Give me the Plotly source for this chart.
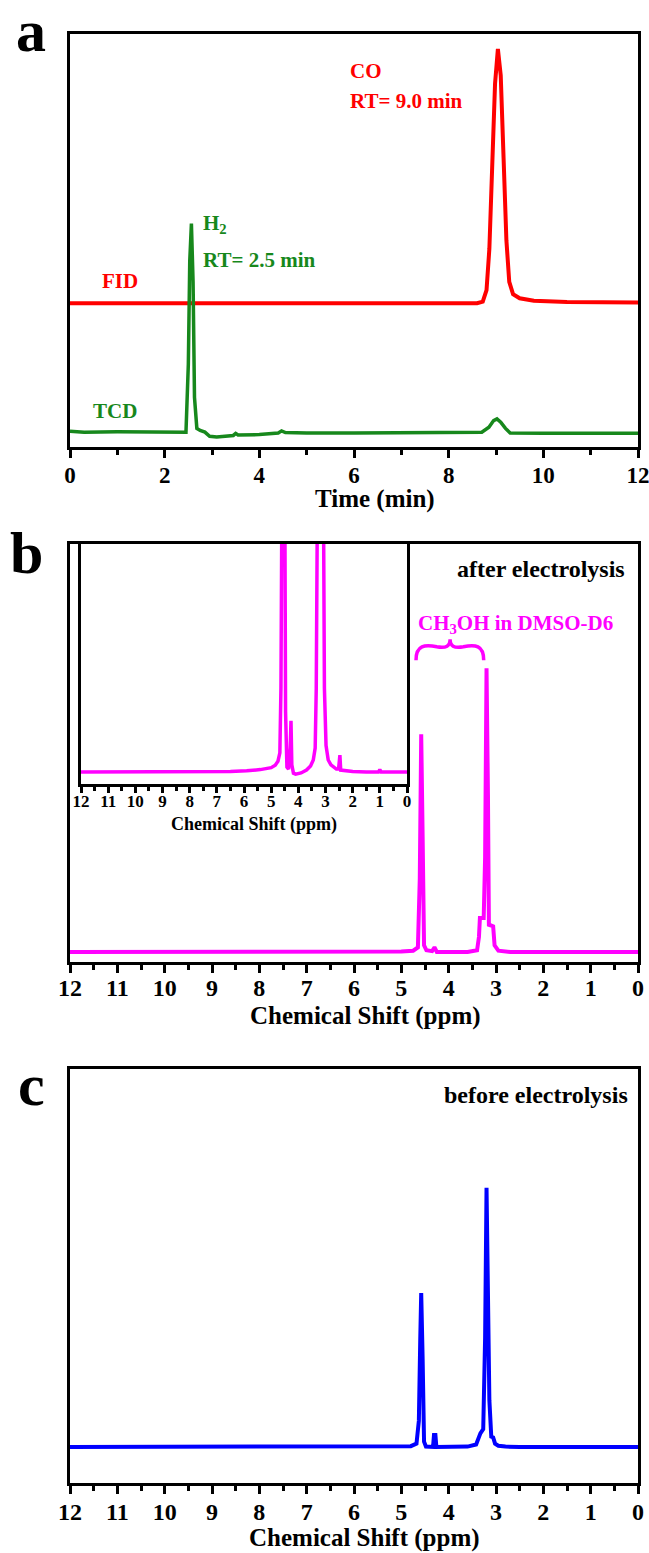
import plotly.graph_objects as go

W, H = 649, 1553
FONT = "Liberation Serif, Times New Roman, serif"

# ---------------- data (arbitrary units) ----------------
# Panel a: gas chromatograms
fid_time = [0, 8.6, 8.72, 8.8, 8.86, 8.92, 8.98, 9.04, 9.1, 9.16, 9.22, 9.28, 9.36, 9.5, 9.8, 10.5, 12]
fid_signal = [0.348, 0.348, 0.352, 0.38, 0.48, 0.68, 0.88, 0.964, 0.9, 0.7, 0.5, 0.4, 0.37, 0.36, 0.354, 0.351, 0.350]

tcd_time = [0, 0.3, 1.0, 2.0, 2.45, 2.5, 2.53, 2.565, 2.6, 2.63, 2.68, 2.75, 2.85, 2.95, 3.1, 3.45,
            3.5, 3.55, 4.0, 4.4, 4.47, 4.55, 5, 6, 7, 8, 8.7, 8.85, 8.95, 9.02, 9.1, 9.2, 9.3, 10, 11, 12]
tcd_signal = [0.038, 0.036, 0.037, 0.036, 0.036, 0.20, 0.45, 0.541, 0.40, 0.12, 0.045, 0.040, 0.036, 0.026,
              0.024, 0.028, 0.033, 0.029, 0.030, 0.034, 0.039, 0.035, 0.034, 0.034, 0.034, 0.035, 0.036,
              0.048, 0.064, 0.068, 0.060, 0.045, 0.034, 0.033, 0.033, 0.033]

# Panel b: 1H NMR after electrolysis
after_ppm = [12, 6, 5, 4.75, 4.65, 4.61, 4.58, 4.55, 4.52, 4.47, 4.35, 4.31, 4.29, 4.25, 3.6, 3.4, 3.36,
             3.34, 3.26, 3.23, 3.2, 3.17, 3.15, 3.12, 3.06, 3.03, 2.95, 2.7, 2, 0]
after_int = [0.024, 0.024, 0.025, 0.027, 0.035, 0.2, 0.545, 0.3, 0.04, 0.028, 0.026, 0.033, 0.033, 0.024,
             0.024, 0.028, 0.06, 0.105, 0.105, 0.25, 0.703, 0.4, 0.089, 0.088, 0.085, 0.04, 0.027, 0.024,
             0.024, 0.024]

# Inset of panel b (expanded vertical scale)
inset_ppm = [12, 9, 6.5, 5.9, 5.4, 5.0, 4.85, 4.75, 4.68, 4.64, 4.6, 4.5, 4.47, 4.42, 4.36, 4.3, 4.27,
             4.24, 4.18, 4.1, 3.9, 3.7, 3.55, 3.45, 3.38, 3.34, 3.3, 3.2, 3.08, 3.04, 2.98, 2.9, 2.8,
             2.7, 2.6, 2.52, 2.49, 2.47, 2.44, 2.3, 2.0, 1.5, 1.05, 1.0, 0.95, 0.5, 0]
inset_int = [0.05, 0.05, 0.052, 0.055, 0.06, 0.068, 0.078, 0.095, 0.13, 0.4, 1.3, 1.3, 0.3, 0.07, 0.062,
             0.15, 0.263, 0.08, 0.045, 0.041, 0.046, 0.058, 0.075, 0.1, 0.15, 0.4, 1.3, 3.0, 1.3, 0.4,
             0.16, 0.1, 0.08, 0.069, 0.062, 0.062, 0.12, 0.12, 0.058, 0.055, 0.052, 0.05, 0.05, 0.06,
             0.05, 0.05, 0.05]

# Panel c: 1H NMR before electrolysis
before_ppm = [12, 5.2, 4.8, 4.68, 4.63, 4.60, 4.58, 4.55, 4.52, 4.48, 4.4, 4.33, 4.31, 4.28, 4.26, 4.2,
              3.6, 3.42, 3.36, 3.33, 3.27, 3.23, 3.2, 3.17, 3.14, 3.1, 3.06, 3.02, 2.95, 2.8, 2.5, 0]
before_int = [0.087, 0.087, 0.089, 0.095, 0.15, 0.35, 0.459, 0.3, 0.1, 0.088, 0.087, 0.087, 0.116, 0.116,
              0.087, 0.087, 0.088, 0.093, 0.11, 0.12, 0.13, 0.35, 0.713, 0.4, 0.2, 0.112, 0.11, 0.095,
              0.09, 0.088, 0.087, 0.087]

time_ticks = [0, 2, 4, 6, 8, 10, 12]
ppm_ticks = list(range(0, 13))

RED, GREEN, MAGENTA, BLUE = "#FF0000", "#17881C", "#FF00FF", "#0000FF"


def fx(px):
    return px / W


def fy(py):
    return 1 - py / H


fig = go.Figure()
fig.add_trace(go.Scatter(x=fid_time, y=fid_signal, mode="lines", line=dict(color=RED, width=4),
                         xaxis="x", yaxis="y"))
fig.add_trace(go.Scatter(x=tcd_time, y=tcd_signal, mode="lines", line=dict(color=GREEN, width=3.5),
                         xaxis="x", yaxis="y"))
fig.add_trace(go.Scatter(x=after_ppm, y=after_int, mode="lines", line=dict(color=MAGENTA, width=4),
                         xaxis="x2", yaxis="y2"))
fig.add_trace(go.Scatter(x=inset_ppm, y=inset_int, mode="lines", line=dict(color=MAGENTA, width=3.5),
                         xaxis="x3", yaxis="y3"))
fig.add_trace(go.Scatter(x=before_ppm, y=before_int, mode="lines", line=dict(color=BLUE, width=4),
                         xaxis="x4", yaxis="y4"))


def xax(domain, rng, tickvals, dtick_minor, fsize, ticklen=8, minorlen=5, anchor="y", standoff=-3):
    return dict(domain=domain, range=rng, anchor=anchor, showline=True, linecolor="black", linewidth=3,
                mirror=True, showgrid=False, zeroline=False, ticks="outside", ticklen=ticklen,
                tickwidth=3, tickcolor="black", tickmode="array", tickvals=tickvals,
                ticktext=[str(v) for v in tickvals], automargin=False, ticklabelstandoff=standoff,
                ticklabeloverflow="allow",
                tickfont=dict(family=FONT, size=fsize, color="black", weight="bold"),
                minor=dict(dtick=dtick_minor, ticks="outside", ticklen=minorlen, tickwidth=3,
                           tickcolor="black", showgrid=False),
                fixedrange=True)


def yax(domain, anchor):
    return dict(domain=domain, range=[0, 1], anchor=anchor, showline=True, linecolor="black", linewidth=3,
                mirror=True, showgrid=False, zeroline=False, ticks="", showticklabels=False,
                automargin=False, fixedrange=True)


# panel geometry (pixels)
a_box = (70, 638, 34, 447)
b_box = (70, 638, 544, 962)
i_box = (81, 407, 544, 784)
c_box = (70, 638, 1069, 1483)

fig.update_layout(
    width=W, height=H, margin=dict(l=0, r=0, t=0, b=0, autoexpand=False),
    paper_bgcolor="white", plot_bgcolor="white", showlegend=False,
    xaxis=xax([fx(a_box[0]), fx(a_box[1])], [0, 12], time_ticks, 1, 23, anchor="y", standoff=-3),
    yaxis=yax([fy(a_box[3]), fy(a_box[2])], "x"),
    xaxis2=xax([fx(b_box[0]), fx(b_box[1])], [12, 0], ppm_ticks, 0.5, 24, anchor="y2", standoff=-6),
    yaxis2=yax([fy(b_box[3]), fy(b_box[2])], "x2"),
    xaxis3=xax([fx(i_box[0]), fx(i_box[1])], [12, 0], ppm_ticks, 0.5, 17, ticklen=6, minorlen=4,
               anchor="y3", standoff=-6),
    yaxis3=yax([fy(i_box[3]), fy(i_box[2])], "x3"),
    xaxis4=xax([fx(c_box[0]), fx(c_box[1])], [12, 0], ppm_ticks, 0.5, 24, anchor="y4", standoff=-3),
    yaxis4=yax([fy(c_box[3]), fy(c_box[2])], "x4"),
)

annotations = []


def txt(text, x, y, size, color="black", xanchor="left", yanchor="middle"):
    annotations.append(dict(text=text, x=fx(x), y=fy(y), xref="paper", yref="paper", showarrow=False,
                            xanchor=xanchor, yanchor=yanchor, borderpad=0,
                            font=dict(family=FONT, size=size, color=color, weight="bold")))


# panel letters
txt("a", 31, 31, 60, xanchor="center")
txt("b", 26, 553, 60, xanchor="center")
txt("c", 31, 1085, 60, xanchor="center")

# axis titles
txt("Time (min)", 375, 499, 25, xanchor="center")
txt("Chemical Shift (ppm)", 254, 824, 18, xanchor="center")
txt("Chemical Shift (ppm)", 366, 1016, 25, xanchor="center")
txt("Chemical Shift (ppm)", 364, 1538, 25, xanchor="center")

# labels panel a
txt("CO", 349, 71, 21, RED)
txt("RT= 9.0 min", 349, 101, 21, RED)
txt("FID", 101, 281, 21, RED)
txt("H<sub>2</sub>", 202, 224, 21, GREEN)
txt("RT= 2.5 min", 202, 260, 21, GREEN)
txt("TCD", 92, 411, 21, GREEN)

# labels panel b / c
txt("after electrolysis", 626, 569, 24, xanchor="right")
txt("CH<sub>3</sub>OH in DMSO-D6", 417, 624, 21, MAGENTA)
txt("before electrolysis", 629, 1095, 24, xanchor="right")

fig.update_layout(annotations=annotations)

# curly brace over the methanol peaks (panel b)
brace = ("M 4.69,0.722 C 4.69,0.758 4.5,0.76 4.25,0.754 C 4.05,0.75 3.97,0.756 3.97,0.772 "
         "C 3.97,0.756 3.89,0.75 3.69,0.754 C 3.44,0.76 3.26,0.758 3.26,0.722")
fig.add_shape(type="path", path=brace, xref="x2", yref="y2", line=dict(color=MAGENTA, width=3.5))

fig.write_html("out.html")
